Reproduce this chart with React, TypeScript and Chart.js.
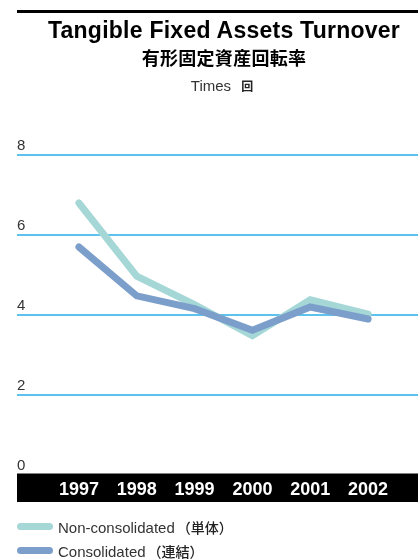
import React, { useEffect, useRef } from "react";
import { Chart, registerables } from "chart.js";

Chart.register(...registerables);

// ---- Data ----
const years = ["1997", "1998", "1999", "2000", "2001", "2002"];
const nonConsolidated = [6.8, 4.97, 4.26, 3.48, 4.38, 4.02];
const consolidated = [5.7, 4.48, 4.16, 3.62, 4.2, 3.9];
const yMin = 0;
const yMax = 8;
const yStep = 2;

const titleText = "Tangible Fixed Assets Turnover";
const subtitleText = "有形固定資産回転率";
const unitText = "Times";
const unitTextJa = "回";
const legendNon = "Non-consolidated";
const legendNonJa = "（単体）";
const legendCon = "Consolidated";
const legendConJa = "（連結）";

// ---- Styles ----
const NON_COLOR = "#a5d7d7";
const CON_COLOR = "#7b9fca";
const GRID_COLOR = "#5ec3ec";
const SANS = '"Liberation Sans", Arial, Helvetica, sans-serif';
const CJK = '"Noto Sans CJK JP", "Noto Sans CJK SC", sans-serif';

const gridBandPlugin = {
  id: "gridBand",
  beforeDraw(chart: any) {
    const { ctx } = chart;
    const ys = chart.scales.y;
    const xs = chart.scales.x;
    const left = ys.left;
    const right = chart.width;
    ctx.save();
    ctx.strokeStyle = GRID_COLOR;
    ctx.lineWidth = 2;
    ys.ticks.forEach((t: any) => {
      if (t.value === yMin) return;
      const py = Math.round(ys.getPixelForValue(t.value));
      ctx.beginPath();
      ctx.moveTo(left, py);
      ctx.lineTo(right, py);
      ctx.stroke();
    });
    ctx.fillStyle = "#000";
    ctx.fillRect(left, xs.top - 1.5, right - left, xs.height + 1.5);
    ctx.restore();
  },
};

export default function App() {
  const ref = useRef<HTMLCanvasElement | null>(null);

  useEffect(() => {
    if (!ref.current) return;
    const chart = new Chart(ref.current, {
      type: "line",
      data: {
        labels: years,
        datasets: [
          {
            label: legendNon,
            data: nonConsolidated,
            borderColor: NON_COLOR,
            backgroundColor: NON_COLOR,
            borderWidth: 7,
            borderCapStyle: "round",
            pointRadius: 0,
            tension: 0,
            fill: false,
            order: 1,
          },
          {
            label: legendCon,
            data: consolidated,
            borderColor: CON_COLOR,
            backgroundColor: CON_COLOR,
            borderWidth: 7,
            borderCapStyle: "round",
            pointRadius: 0,
            tension: 0,
            fill: false,
            order: 0,
          },
        ],
      },
      options: {
        animation: false,
        responsive: false,
        layout: { padding: { left: 17, right: 21, top: 155, bottom: 58 } },
        plugins: {
          legend: { display: false },
          tooltip: { enabled: false },
          title: { display: false },
        },
        scales: {
          x: {
            type: "category",
            offset: true,
            grid: { display: false, drawTicks: false },
            border: { display: false },
            ticks: {
              color: "#ffffff",
              font: { family: SANS, size: 18, weight: "bold" },
              padding: 4,
              maxRotation: 0,
              autoSkip: false,
            },
            afterFit: (s: any) => {
              s.height = 27;
            },
          },
          y: {
            min: yMin,
            max: yMax,
            grid: { display: false, drawTicks: false },
            border: { display: false },
            ticks: {
              stepSize: yStep,
              color: "#333333",
              font: { family: SANS, size: 15 },
              crossAlign: "far",
              labelOffset: -9,
              padding: 0,
            },
            afterFit: (s: any) => {
              s.width = 33;
            },
          },
        },
      },
      plugins: [gridBandPlugin],
    } as any);
    return () => chart.destroy();
  }, []);

  return (
    <div
      style={{
        position: "absolute",
        left: 0,
        top: 0,
        width: 418,
        height: 560,
        background: "#fff",
        overflow: "hidden",
      }}
    >
      <canvas
        ref={ref}
        width={418}
        height={560}
        style={{ position: "absolute", left: 0, top: 0, display: "block" }}
      />
      <div
        style={{
          position: "absolute",
          left: 17,
          top: 10,
          width: 401,
          height: 3,
          background: "#000",
        }}
      />
      <div
        style={{
          position: "absolute",
          left: 30,
          width: 388,
          top: 19,
          textAlign: "center",
          whiteSpace: "nowrap",
          fontFamily: SANS,
          fontWeight: "bold",
          fontSize: 23,
          lineHeight: "23px",
          letterSpacing: "0.25px",
          color: "#000",
        }}
      >
        {titleText}
      </div>
      <div
        style={{
          position: "absolute",
          left: 30,
          width: 388,
          top: 48,
          textAlign: "center",
          whiteSpace: "nowrap",
          fontFamily: CJK,
          fontWeight: "bold",
          fontSize: 18,
          lineHeight: "18px",
          letterSpacing: "0.3px",
          color: "#000",
        }}
      >
        {subtitleText}
      </div>
      <div
        style={{
          position: "absolute",
          left: 26,
          width: 392,
          top: 78,
          textAlign: "center",
          whiteSpace: "nowrap",
          fontFamily: SANS,
          fontSize: 15,
          lineHeight: "15px",
          color: "#333",
        }}
      >
        {unitText}
        <span
          style={{
            fontFamily: CJK,
            fontSize: 12,
            fontWeight: "bold",
            marginLeft: 10,
            color: "#222",
          }}
        >
          {unitTextJa}
        </span>
      </div>
      {/* Legend */}
      <div
        style={{
          position: "absolute",
          left: 17,
          top: 523,
          width: 36,
          height: 7,
          borderRadius: 3.5,
          background: NON_COLOR,
        }}
      />
      <div
        style={{
          position: "absolute",
          left: 58,
          top: 520,
          whiteSpace: "nowrap",
          fontFamily: SANS,
          fontSize: 15,
          lineHeight: "15px",
          color: "#333",
        }}
      >
        {legendNon}
        <span style={{ fontFamily: CJK, fontSize: 14, fontWeight: 500, color: "#222", marginLeft: 2 }}>
          {legendNonJa}
        </span>
      </div>
      <div
        style={{
          position: "absolute",
          left: 17,
          top: 547,
          width: 36,
          height: 7,
          borderRadius: 3.5,
          background: CON_COLOR,
        }}
      />
      <div
        style={{
          position: "absolute",
          left: 58,
          top: 544,
          whiteSpace: "nowrap",
          fontFamily: SANS,
          fontSize: 15,
          lineHeight: "15px",
          color: "#333",
        }}
      >
        {legendCon}
        <span style={{ fontFamily: CJK, fontSize: 14, fontWeight: 500, color: "#222", marginLeft: 2 }}>
          {legendConJa}
        </span>
      </div>
    </div>
  );
}
